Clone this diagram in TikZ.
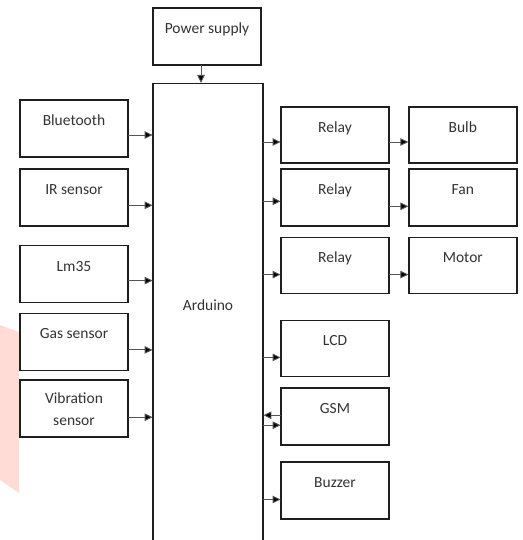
\documentclass[tikz,border=0pt]{standalone}
\usepackage{fontspec}
\setmainfont{Carlito}
\usepackage{tikz}
\usetikzlibrary{arrows.meta,positioning,calc}
\definecolor{boxline}{HTML}{1f1f1f}
\definecolor{wireline}{HTML}{555555}
\definecolor{txtgray}{HTML}{333333}
\definecolor{markpink}{HTML}{ffdcd6}

\begin{document}
\begin{tikzpicture}[
  x=1pt,y=-1pt,
  node distance=11pt and 19pt,
  block/.style={rectangle,draw=boxline,line width=1.6pt,fill=white,
    minimum width=108,minimum height=57,align=center,text=txtgray,
    font=\fontsize{15.5}{22}\selectfont,inner sep=0pt,outer sep=0.4pt},
  mcu/.style={block,minimum width=110,minimum height=480,anchor=north},
  arrow/.style={-{Triangle[length=8pt,width=7.5pt,fill=black]},line width=0.9pt,wireline},
]
\clip (0,0) rectangle (522,540);

% watermark patch at the left edge
\fill[markpink] (0,325) -- (19,332) -- (19,493) -- (0,480) -- cycle;

% Controller and supply
\node[block] (power) at (207,36.5) {Power supply\\[-6pt]~};
\node[mcu,label={[text=txtgray,font=\fontsize{15.5}{22}\selectfont,yshift=18pt]center:Arduino}] (arduino) at (208,83) {};

% Inputs
\node[block] (bt) at (74,128.5) {Bluetooth\\[-6pt]~};
\node[block,below=11pt of bt] (ir) {IR sensor\\[-6pt]~};
\node[block,below=19pt of ir] (lm) {Lm35\\[-6pt]~};
\node[block,below=10pt of lm] (gas) {Gas sensor\\[-6pt]~};
\node[block,below=9pt of gas] (vib) {Vibration\\sensor};

% Outputs
\node[block,minimum height=56] (rone) at (335,135) {Relay\\[-6pt]~};
\node[block,minimum height=56,right=of rone] (bulb) {Bulb\\[-6pt]~};
\node[block,below=5pt of rone] (rtwo) {Relay\\[-6pt]~};
\node[block,right=of rtwo] (fan) {Fan\\[-6pt]~};
\node[block,minimum height=56,below=11pt of rtwo] (rthree) {Relay\\[-6pt]~};
\node[block,minimum height=56,right=of rthree] (motor) {Motor\\[-6pt]~};
\node[block,minimum height=56,below=26pt of rthree] (lcd) {LCD\\[-6pt]~};
\node[block,below=11pt of lcd] (gsm) {GSM\\[-6pt]~};
\node[block,below=16pt of gsm] (buzzer) {Buzzer\\[-6pt]~};

% Supply arrow
\path (power.south) ++(-6,0) coordinate (ps);
\draw[arrow] (ps) -- (ps |- arduino.north);

% Sensor arrows
\foreach \n/\d in {bt/6.5,ir/8,lm/6.5,gas/8,vib/8.5}{
  \path (\n.east) ++(0,\d) coordinate (p);
  \draw[arrow] (p) -- (p -| arduino.west);
}

% Arduino to outputs
\foreach \n/\d in {rone/7,rtwo/4,rthree/9,lcd/9,gsm/8.5,buzzer/9}{
  \path (\n.west) ++(0,\d) coordinate (q);
  \draw[arrow] (q -| arduino.east) -- (q);
}

% Relays to loads
\foreach \a/\b/\d in {rone/bulb/7,rtwo/fan/9,rthree/motor/9}{
  \path (\a.east) ++(0,\d) coordinate (r);
  \draw[arrow] (r) -- (r -| \b.west);
}

% GSM back to Arduino
\path (gsm.west) ++(0,-1.5) coordinate (g);
\draw[arrow] (g) -- (g -| arduino.east);

\end{tikzpicture}
\end{document}
